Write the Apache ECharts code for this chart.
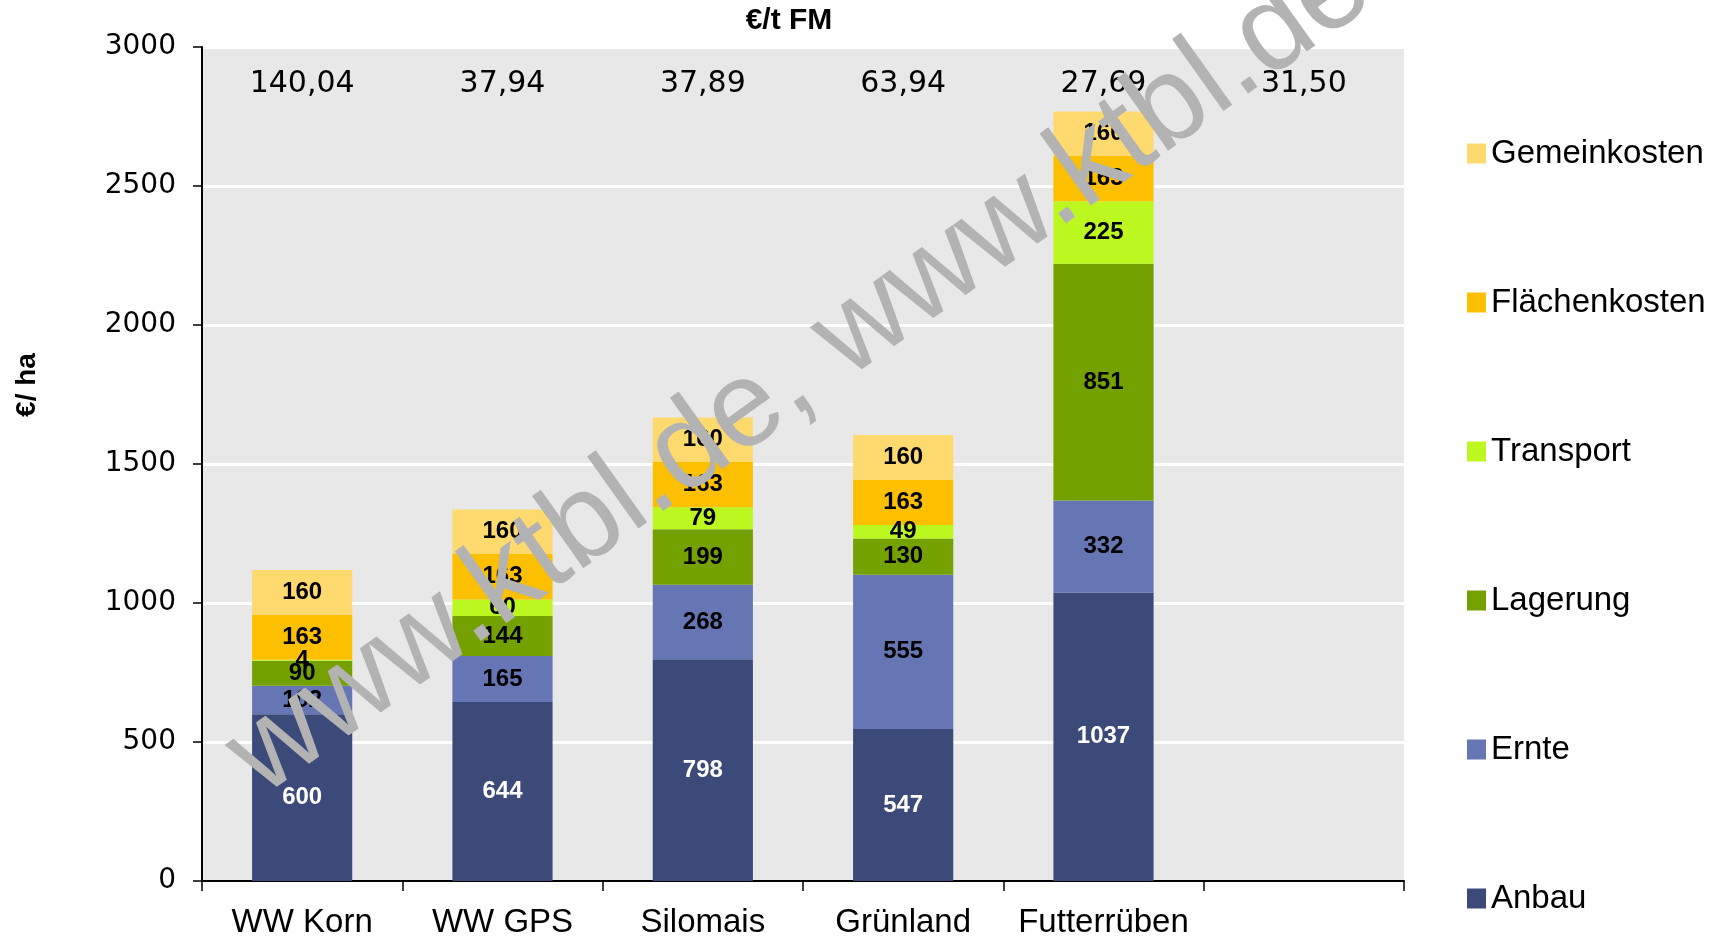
<!DOCTYPE html>
<html>
<head>
<meta charset="utf-8">
<script src="https://cdn.jsdelivr.net/npm/echarts@6/dist/echarts.min.js"></script>
<style>
    html, body {
        margin: 0;
        padding: 0;
        background: #fff;
    }
    #chart {
        width: 1719px;
        height: 937px;
    }
</style>
</head>
<body>
<div id="chart"></div>
<script>
// Kosten je Hektar, gestapelt
const categories = ['WW Korn', 'WW GPS', 'Silomais', 'Grünland', 'Futterrüben', '']
const perTonne = ['140,04', '37,94', '37,89', '63,94', '27,69', '31,50']

const anbau = [600, 644, 798, 547, 1037]
const ernte = [102, 165, 268, 555, 332]
const lagerung = [90, 144, 199, 130, 851]
const transport = [4, 60, 79, 49, 225]
const flaechenkosten = [163, 163, 163, 163, 163]
const gemeinkosten = [160, 160, 160, 160, 160]

const yTicks = {min: 0, max: 3000, interval: 500}

const chart = echarts.init(document.getElementById('chart'))

function barSeries(name, data, color, labelColor) {
    return {
        name: name,
        type: 'bar',
        stack: 'kosten',
        barWidth: '50%',
        data: data,
        itemStyle: {
            color: color,
        },
        label: {
            show: true,
            position: 'inside',
            color: labelColor,
            fontFamily: 'Liberation Sans, Arial, sans-serif',
            fontWeight: 'bold',
            fontSize: 24,
            textBorderWidth: 0,
        },
        emphasis: {
            disabled: true,
        },
    }
}

chart.setOption({
    animation: false,
    grid: {
        left: 202,
        right: 315,
        top: 47,
        bottom: 56,
        show: true,
        backgroundColor: '#E8E8E8',
        borderWidth: 0,
        containLabel: false,
        outerBoundsMode: 'none',
    },
    legend: {
        orient: 'vertical',
        left: 1462,
        top: 132,
        itemWidth: 19,
        itemHeight: 20,
        itemGap: 116,
        icon: 'rect',
        selectedMode: false,
        data: ['Gemeinkosten', 'Flächenkosten', 'Transport', 'Lagerung', 'Ernte', 'Anbau'],
        textStyle: {
            fontFamily: 'Liberation Sans, Arial, sans-serif',
            fontSize: 33,
            lineHeight: 31,
            color: '#000',
        },
    },
    xAxis: [
        {
            type: 'category',
            data: categories,
            axisLine: {
                lineStyle: {color: '#000', width: 2},
            },
            axisTick: {
                show: true,
                length: 10,
                lineStyle: {color: '#000', width: 1.5},
            },
            axisLabel: {
                interval: 0,
                margin: 25,
                color: '#000',
                fontFamily: 'Liberation Sans, Arial, sans-serif',
                fontSize: 33,
            },
        },
        {
            type: 'category',
            position: 'top',
            data: perTonne,
            axisLine: {show: false},
            axisTick: {show: false},
            axisLabel: {
                interval: 0,
                inside: true,
                margin: 22,
                color: '#000',
                fontFamily: 'DejaVu Sans, Verdana, sans-serif',
                fontSize: 30,
            },
        },
    ],
    yAxis: {
        type: 'value',
        min: yTicks.min,
        max: yTicks.max,
        interval: yTicks.interval,
        axisLine: {
            show: true,
            lineStyle: {color: '#000', width: 2},
        },
        axisTick: {
            show: true,
            length: 9,
            lineStyle: {color: '#000', width: 1.5},
        },
        axisLabel: {
            margin: 26,
            color: '#000',
            fontFamily: 'DejaVu Sans, Verdana, sans-serif',
            fontSize: 28,
            formatter: v => String(v),
        },
        splitLine: {
            lineStyle: {color: '#fff', width: 3},
        },
    },
    series: [
        barSeries('Anbau', anbau, '#3C4A7A', '#fff'),
        barSeries('Ernte', ernte, '#6675B3', '#000'),
        barSeries('Lagerung', lagerung, '#74A000', '#000'),
        barSeries('Transport', transport, '#BCF820', '#000'),
        barSeries('Flächenkosten', flaechenkosten, '#FCC000', '#000'),
        barSeries('Gemeinkosten', gemeinkosten, '#FEDA6E', '#000'),
    ],
    graphic: [
        {
            type: 'text',
            x: 789,
            y: 21,
            style: {
                text: '€/t FM',
                fontFamily: 'Liberation Sans, Arial, sans-serif',
                fontWeight: 'bold',
                fontSize: 30,
                fill: '#000',
                align: 'center',
                verticalAlign: 'middle',
            },
        },
        {
            type: 'text',
            x: 27,
            y: 385,
            rotation: Math.PI / 2,
            style: {
                text: '€/ ha',
                fontFamily: 'Liberation Sans, Arial, sans-serif',
                fontWeight: 'bold',
                fontSize: 28,
                fill: '#000',
                align: 'center',
                verticalAlign: 'middle',
            },
        },
        {
            // Wasserzeichen
            type: 'text',
            x: 800,
            y: 372,
            z: 100,
            rotation: 0.62,
            style: {
                text: 'www.ktbl.de, www.ktbl.de',
                fontFamily: 'Liberation Sans, Arial, sans-serif',
                fontSize: 122,
                fill: '#B3B3B3',
                align: 'center',
                verticalAlign: 'middle',
            },
        },
    ],
})
</script>
</body>
</html>
